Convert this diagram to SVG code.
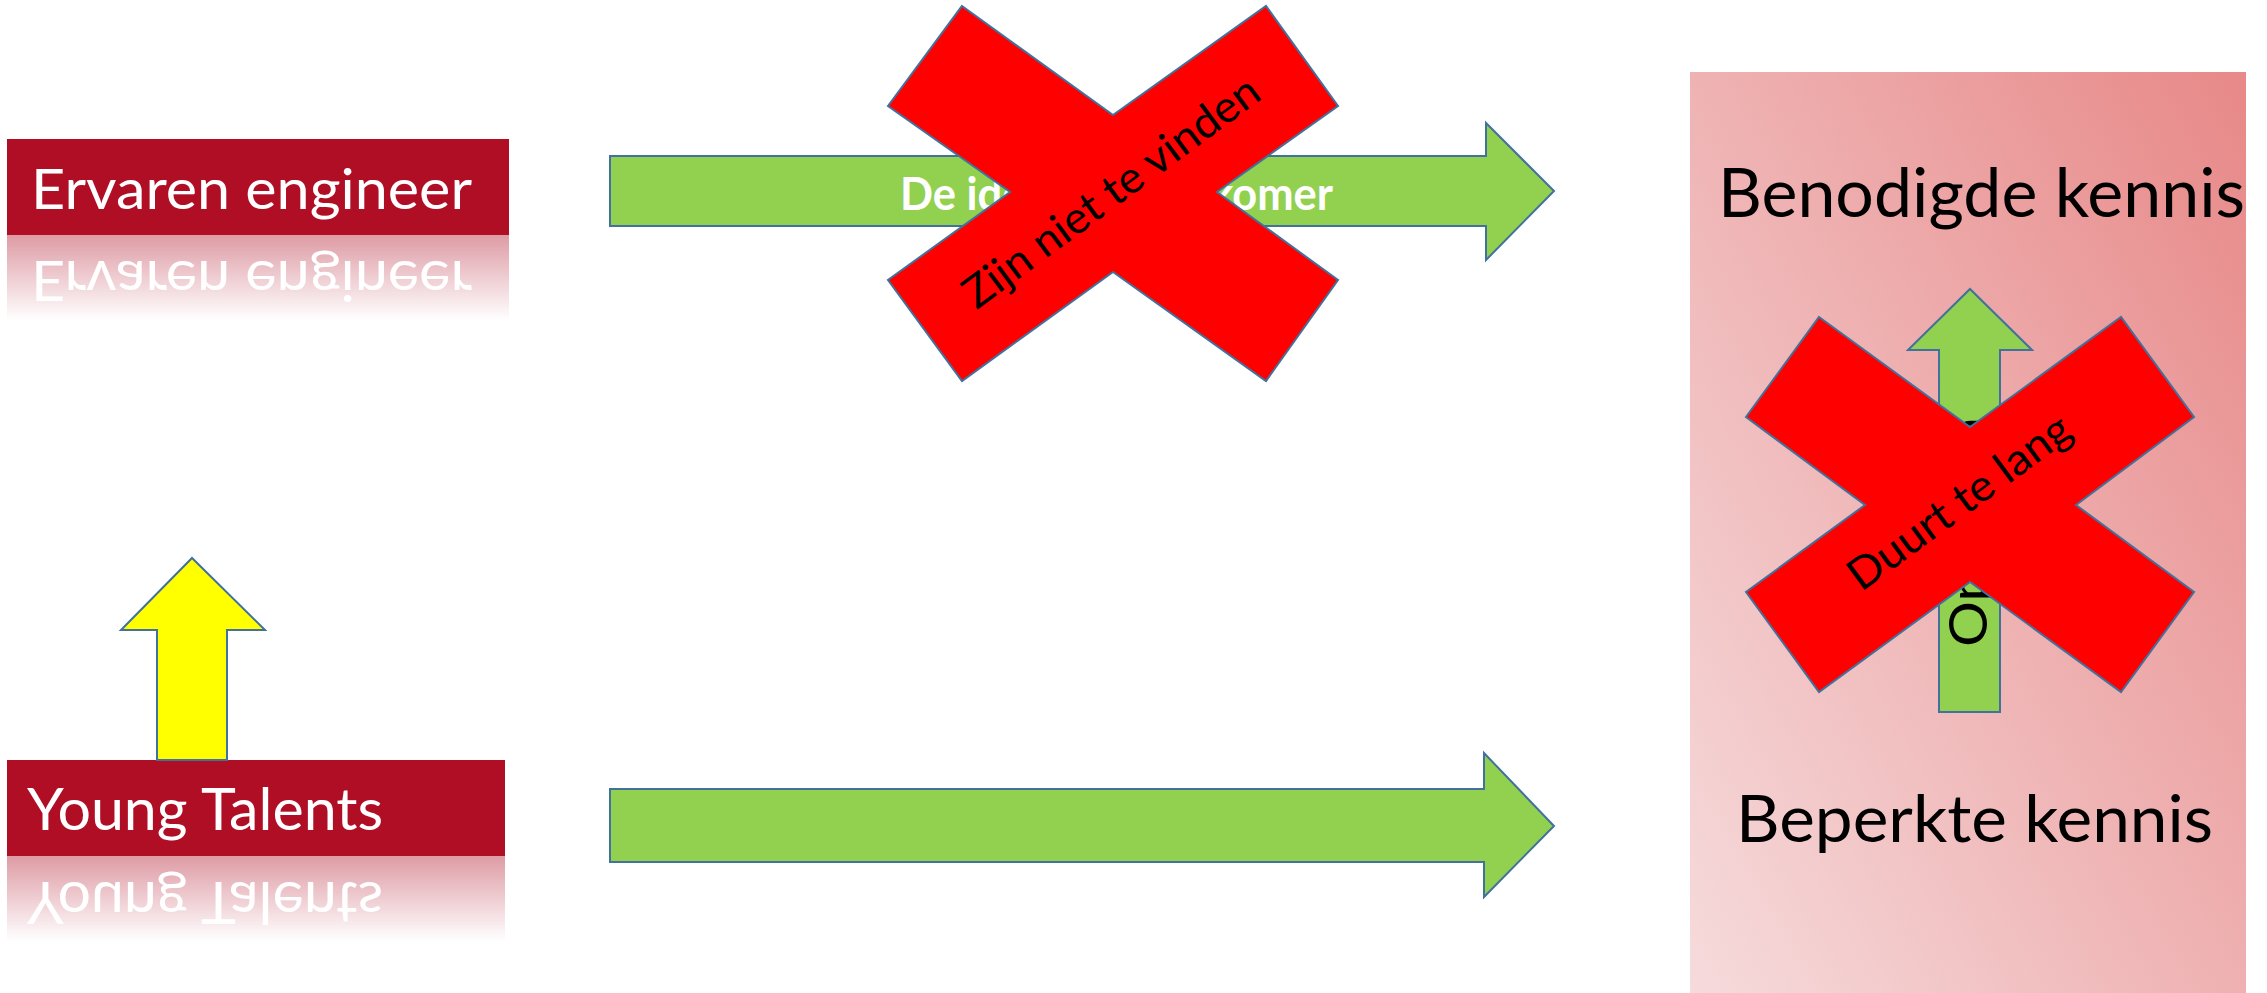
<svg xmlns="http://www.w3.org/2000/svg" width="2267" height="993" viewBox="0 0 2267 993">
<defs>
<style>
.box{fill:#AF0E25}
.boxtxt{font-family:Lato,"Liberation Sans",sans-serif;fill:#FFFFFF}
.shape{stroke:#41719C;stroke-width:2;stroke-linejoin:miter}
.green{fill:#92D050}
.yellow{fill:#FFFF00}
.cross{fill:#FF0000;stroke:#41719C;stroke-width:2;stroke-linejoin:miter}
.xtxt{font-family:Lato,"Liberation Sans",sans-serif;font-size:44px;fill:#000000}
.big{font-family:Lato,"Liberation Sans",sans-serif;fill:#000000}
.arrowtxt{font-family:Lato,"Liberation Sans",sans-serif;font-weight:bold;font-size:45px;fill:#FFFFFF}
</style>
<linearGradient id="panelGrad" x1="0" y1="1" x2="1" y2="0.05">
<stop offset="0" stop-color="#F6DBDC"/>
<stop offset="1" stop-color="#E88A8A"/>
</linearGradient>
<linearGradient id="fade" x1="0" y1="0" x2="0" y2="1">
<stop offset="0" stop-color="#FFFFFF" stop-opacity="0.42"/>
<stop offset="0.9" stop-color="#FFFFFF" stop-opacity="0"/>
</linearGradient>
<mask id="m1" maskUnits="userSpaceOnUse" x="0" y="234" width="520" height="100">
<rect x="0" y="234" width="520" height="96" fill="url(#fade)"/>
</mask>
<mask id="m2" maskUnits="userSpaceOnUse" x="0" y="855" width="520" height="100">
<rect x="0" y="855" width="520" height="96" fill="url(#fade)"/>
</mask>
</defs>

<g id="panel">
<rect x="1690" y="72" width="556" height="921" fill="url(#panelGrad)"/>
</g>

<g id="ervaren-engineer">
<g id="ervaren-main">
<rect class="box" x="7" y="139" width="502" height="96"/>
<text class="boxtxt" x="31" y="209" font-size="57" textLength="441" lengthAdjust="spacingAndGlyphs">Ervaren engineer</text>
</g>
<g mask="url(#m1)">
<use href="#ervaren-main" transform="matrix(1 0 0 -1 0 470)"/>
</g>
</g>

<g id="young-talents">
<g id="young-main">
<rect class="box" x="7" y="760" width="498" height="96"/>
<text class="boxtxt" x="27" y="830" font-size="58" textLength="356" lengthAdjust="spacingAndGlyphs">Young Talents</text>
</g>
<g mask="url(#m2)">
<use href="#young-main" transform="matrix(1 0 0 -1 0 1712)"/>
</g>
</g>

<g id="benodigde-kennis">
<text class="big" x="1718" y="217" font-size="67" textLength="527" lengthAdjust="spacingAndGlyphs">Benodigde kennis</text>
</g>
<g id="beperkte-kennis">
<text class="big" x="1736" y="842" font-size="66" textLength="477" lengthAdjust="spacingAndGlyphs">Beperkte kennis</text>
</g>

<g id="connectors">
<path class="shape yellow" d="M157,760 L157,630 L121,630 L192,558 L265,630 L227,630 L227,760 Z"/>
<path class="shape green" d="M610,156 L1486,156 L1486,123 L1554,191 L1486,260 L1486,226 L610,226 Z"/>
<text class="arrowtxt" x="900" y="210" textLength="433" lengthAdjust="spacingAndGlyphs">De ideale nieuwkomer</text>
<path class="shape green" d="M610,789 L1484,789 L1484,753 L1554,826 L1484,897 L1484,862 L610,862 Z"/>
<path class="shape green" d="M1939,712 L1939,350 L1908,350 L1970,289 L2032,350 L2000,350 L2000,712 Z"/>
<text class="big" font-size="52" transform="translate(1987,647) rotate(-90)" textLength="230" lengthAdjust="spacingAndGlyphs">Opleiden</text>
</g>

<g id="cross-top">
<polygon class="cross" points="962,6 1113,115 1266,6 1338,106 1217,192 1338,280 1266,381 1113,272 962,381 888,280 1010,192 888,106"/>
<text class="xtxt" text-anchor="middle" transform="translate(1111,192) rotate(-36.5)" x="0" y="15" textLength="357" lengthAdjust="spacingAndGlyphs">Zijn niet te vinden</text>
</g>

<g id="cross-right">
<polygon class="cross" points="1819,317 1970,427 2121,317 2194,417 2076,505 2194,592 2121,692 1970,582 1819,692 1746,592 1865,505 1746,417"/>
<text class="xtxt" text-anchor="middle" transform="translate(1959,502) rotate(-36.3)" x="0" y="15" textLength="265" lengthAdjust="spacingAndGlyphs">Duurt te lang</text>
</g>
</svg>
